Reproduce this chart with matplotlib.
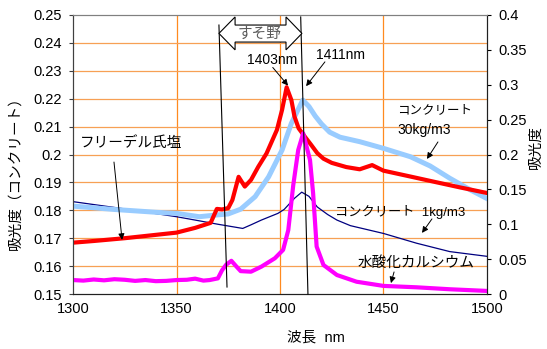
import matplotlib
matplotlib.use("Agg")
import matplotlib.pyplot as plt
from matplotlib.patches import Polygon

plt.rcParams['font.family'] = ['Liberation Sans', 'Noto Sans CJK JP', 'DejaVu Sans']

# ---- data ----
red_x = [1300, 1310, 1325, 1340, 1350, 1359, 1366.5, 1369.5, 1372, 1375, 1377, 1380, 1383, 1386,
         1389.5, 1393.5, 1398.5, 1401, 1403.2, 1405.5, 1407, 1409, 1412, 1415, 1418, 1421, 1425,
         1432, 1438.5, 1444.5, 1450, 1463, 1474, 1487, 1500]
red_y = [0.1684, 0.1690, 0.1700, 0.1712, 0.1720, 0.1737, 0.1755, 0.1805, 0.1803, 0.1808, 0.1837,
         0.1920, 0.1885, 0.1909, 0.1956, 0.2004, 0.2088, 0.2160, 0.2241, 0.2195, 0.2136, 0.2094,
         0.2064, 0.2035, 0.2005, 0.1985, 0.1970, 0.1955, 0.1947, 0.1962, 0.1942, 0.1921, 0.1903,
         0.1882, 0.1862]

blue_x = [1300, 1320, 1340, 1350, 1361, 1369, 1375, 1381, 1388, 1394.5, 1401, 1405.5, 1411,
          1414, 1417, 1420, 1424, 1429, 1438.5, 1450, 1463, 1472.5, 1482, 1492, 1500]
blue_y = [0.1815, 0.1803, 0.1793, 0.1789, 0.1777, 0.1783, 0.1787, 0.1804, 0.1849, 0.1920,
          0.2016, 0.2112, 0.2195, 0.2172, 0.2138, 0.2110, 0.2080, 0.2062, 0.2046, 0.2022,
          0.1992, 0.1959, 0.1915, 0.1873, 0.1842]

navy_x = [1300, 1325, 1350, 1359, 1370, 1382, 1386, 1391, 1395, 1399, 1402, 1407, 1410.5,
          1414, 1418, 1423, 1427.5, 1434, 1450, 1466, 1482, 1500]
navy_y = [0.1831, 0.1805, 0.1777, 0.1765, 0.1750, 0.1735, 0.1748, 0.1765, 0.1777, 0.1789,
          0.1803, 0.1843, 0.1865, 0.1850, 0.1812, 0.1785, 0.1765, 0.1745, 0.1717, 0.1682,
          0.1652, 0.1635]

# calcium hydroxide (right axis)
mag_x = [1300, 1305, 1310, 1315, 1320, 1325, 1330, 1335, 1340, 1345, 1350, 1355, 1359, 1363,
         1366, 1370, 1372, 1374, 1376.5, 1379, 1381, 1386, 1391, 1397.5, 1401.5, 1404, 1406.4,
         1408.8, 1411.2, 1414.5, 1416, 1417.7, 1421, 1427.5, 1437, 1450, 1466, 1482, 1500]
mag_y = [0.0200, 0.0192, 0.0208, 0.0196, 0.0212, 0.0204, 0.0188, 0.0200, 0.0184, 0.0188,
         0.0200, 0.0204, 0.0220, 0.0192, 0.0200, 0.0224, 0.0340, 0.0420, 0.0476, 0.0392,
         0.0328, 0.0320, 0.0392, 0.0512, 0.0632, 0.0916, 0.1560, 0.2064, 0.2304, 0.1920,
         0.1444, 0.0680, 0.0416, 0.0272, 0.0176, 0.0116, 0.0096, 0.0068, 0.0044]

x_ticks = [1300, 1350, 1400, 1450, 1500]
left_ticks = [0.15, 0.16, 0.17, 0.18, 0.19, 0.20, 0.21, 0.22, 0.23, 0.24, 0.25]
right_ticks = [0, 0.05, 0.1, 0.15, 0.2, 0.25, 0.3, 0.35, 0.4]

# ---- figure ----
fig = plt.figure(figsize=(5.47, 3.49), dpi=100)
ax = fig.add_axes([73/547, 1-294/349, (487-73)/547, (294-15)/349])
ax2 = ax.twinx()

ax.set_xlim(1300, 1500)
ax.set_ylim(0.15, 0.25)
ax2.set_ylim(0, 0.4)

for v in [1350, 1400, 1450]:
    ax.axvline(v, color='#FF8A1F', lw=0.9, zorder=0)
for h in left_ticks[1:-1]:
    ax.axhline(h, color='#F7A055', lw=0.9, zorder=0)

ax.plot(navy_x, navy_y, color='#000080', lw=0.9, zorder=2)
ax.plot(blue_x, blue_y, color='#99CCFF', lw=3.6, zorder=3, solid_joinstyle='round')
ax.plot(red_x, red_y, color='#FF0000', lw=3.0, zorder=4, solid_joinstyle='round')
ax2.plot(mag_x, mag_y, color='#FF00FF', lw=3.0, zorder=2, solid_joinstyle='round')

ax.set_xticks(x_ticks)
ax.set_xticklabels([str(t) for t in x_ticks])
ax.set_yticks(left_ticks)
ax.set_yticklabels(['%g' % t for t in left_ticks])
ax2.set_yticks(right_ticks)
ax2.set_yticklabels(['%g' % t for t in right_ticks])

ax.tick_params(axis='x', direction='in', length=0, pad=6, labelsize=10.5)
ax.tick_params(axis='y', direction='out', length=3, pad=5, labelsize=10.5, color='#404040')
ax2.tick_params(axis='y', direction='out', length=3, pad=5, labelsize=10.5)

for a in (ax, ax2):
    a.spines['top'].set_color('#808080')
    a.spines['left'].set_color('#404040')
    a.spines['right'].set_color('#202020')
    a.spines['bottom'].set_color('#202020')

T = ax.transData
# vertical reference lines
ax2.plot([1370.5, 1374.4], [0.2464, 0.1525], color='black', lw=0.8, transform=T, clip_on=False, zorder=5)
ax2.plot([1410.0, 1413.5], [0.2493, 0.150], color='black', lw=0.8, transform=T, clip_on=False, zorder=5)

# block double arrow "すそ野"
xa, xb, xc, xd = 1370.5, 1378.3, 1402.9, 1410.6
yh1, ys1, yc, ys2, yh2 = 0.2493, 0.2464, 0.2434, 0.2403, 0.2375
poly = Polygon([(xa, yc), (xb, yh1), (xb, ys1), (xc, ys1), (xc, yh1), (xd, yc),
                (xc, yh2), (xc, ys2), (xb, ys2), (xb, yh2)], closed=True,
               facecolor='white', edgecolor='black', lw=0.8, transform=T, zorder=6)
ax2.add_patch(poly)
ax2.text(1390.3, 0.2432, 'すそ野', color='#595959', fontsize=10.5, ha='center', va='center',
         transform=T, zorder=7)

ap = dict(arrowstyle='-|>', color='black', lw=0.7, mutation_scale=9, shrinkA=0, shrinkB=0)

ax2.text(1396.1, 0.2339, '1403nm', fontsize=10, ha='center', va='center', transform=T, zorder=8)
ax2.annotate('', xy=(1403.9, 0.2247), xytext=(1396.5, 0.2312), xycoords=T, textcoords=T,
             arrowprops=ap, zorder=8)
ax2.text(1429.0, 0.2357, '1411nm', fontsize=10, ha='center', va='center', transform=T, zorder=8)
ax2.annotate('', xy=(1412.6, 0.2245), xytext=(1421.7, 0.2332), xycoords=T, textcoords=T,
             arrowprops=ap, zorder=8)

ax2.text(1328.0, 0.2041, 'フリーデル氏塩', fontsize=10.5, ha='center', va='center',
         transform=T, zorder=8)
ax2.annotate('', xy=(1323.7, 0.1694), xytext=(1319.8, 0.1973), xycoords=T, textcoords=T,
             arrowprops=ap, zorder=8)

ax2.text(1456.5, 0.2160, 'コンクリート', fontsize=9, ha='left', va='center', transform=T, zorder=8)
ax2.text(1456.5, 0.2088, '30kg/m3', fontsize=10, ha='left', va='center', transform=T, zorder=8)
ax2.annotate('', xy=(1471.0, 0.1984), xytext=(1476.3, 0.2045), xycoords=T, textcoords=T,
             arrowprops=ap, zorder=8)

ax2.text(1426.6, 0.1794, 'コンクリート  1kg/m3', fontsize=9.5, ha='left', va='center',
         transform=T, zorder=8)
ax2.annotate('', xy=(1468.6, 0.1719), xytext=(1473.4, 0.1769), xycoords=T, textcoords=T,
             arrowprops=ap, zorder=8)

ax2.text(1437.7, 0.1611, '水酸化カルシウム', fontsize=10.5, ha='left', va='center',
         transform=T, zorder=8)
ax2.annotate('', xy=(1453.6, 0.1539), xytext=(1455.1, 0.1579), xycoords=T, textcoords=T,
             arrowprops=ap, zorder=8)

# axis titles
fig.text(15/547, 1-170/349, '吸光度（コンクリート）', rotation=90, ha='center', va='center', fontsize=10.5)
fig.text(536/547, 1-147/349, '吸光度', rotation=90, ha='center', va='center', fontsize=10.5)
fig.text(316/547, 1-338/349, '波長  nm', ha='center', va='center', fontsize=10.5)

fig.savefig('out.png', dpi=100)
